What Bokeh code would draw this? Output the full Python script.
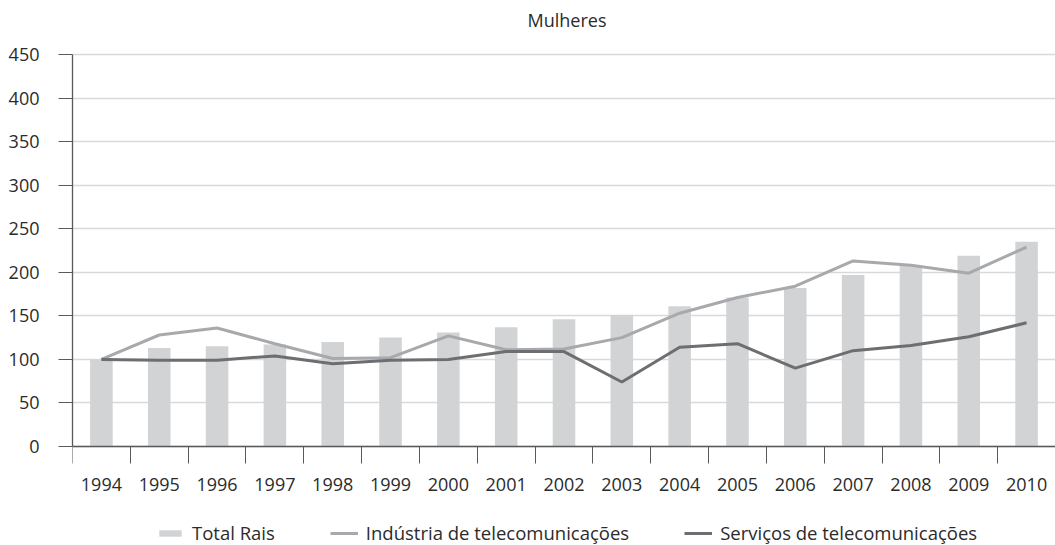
from bokeh.plotting import figure
from bokeh.models import FixedTicker, Legend, LegendItem, ColumnDataSource, Label
from bokeh.embed import file_html
from bokeh.resources import INLINE

years = ["1994", "1995", "1996", "1997", "1998", "1999", "2000", "2001", "2002",
         "2003", "2004", "2005", "2006", "2007", "2008", "2009", "2010"]
total_rais = [100, 113, 115, 117, 120, 125, 131, 137, 146, 151, 161, 171, 182, 197, 208, 219, 235]
industria = [100, 128, 136, 118, 101, 102, 127, 111, 112, 125, 153, 171, 184, 213, 208, 199, 229]
servicos = [100, 99, 99, 104, 95, 99, 100, 109, 109, 74, 114, 118, 90, 110, 116, 126, 142]
y_ticks = [0, 50, 100, 150, 200, 250, 300, 350, 400, 450]
title_text = "Mulheres"

FONT = "Open Sans"
TXT = "#2b2b2b"
AX = "#58595b"

W, H = 1055, 545
TOP = 54          # pixel row of the value 450
AXIS_Y = 446      # pixel row of the value 0
TITLE_Y = 19      # pixel row of the title centre
YMAX = 450
k = (AXIS_Y - TOP) / YMAX          # px per unit
y_lo = -(H - AXIS_Y) / k
y_hi = YMAX + TOP / k

xs = list(range(len(years)))
src = ColumnDataSource(dict(x=xs, total=total_rais, ind=industria, serv=servicos))

p = figure(width=W, height=H, output_backend="svg", toolbar_location=None,
           x_range=(-0.5, len(years) - 0.5), y_range=(y_lo, y_hi),
           min_border_left=72, min_border_right=0, min_border_top=0, min_border_bottom=0,
           title=None)
p.outline_line_color = None
p.background_fill_color = "white"
p.border_fill_color = "white"

bars = p.vbar(x="x", top="total", bottom=0, width=0.39, source=src,
              fill_color="#d1d3d4", line_color=None)
l_ind = p.line(x="x", y="ind", source=src, line_color="#a7a9ac", line_width=3)
l_serv = p.line(x="x", y="serv", source=src, line_color="#6d6e71", line_width=3)

# x axis, pinned at value 0
xa = p.xaxis[0]
xa.fixed_location = 0
xa.ticker = FixedTicker(ticks=xs, minor_ticks=[i - 0.5 for i in range(len(years) + 1)])
xa.major_label_overrides = {i: y for i, y in zip(xs, years)}
xa.major_tick_out = 0
xa.major_tick_in = 0
xa.minor_tick_out = 17
xa.minor_tick_in = 0
xa.minor_tick_line_color = AX
xa.axis_line_color = AX
xa.axis_line_width = 1.3
xa.major_label_standoff = 14
xa.major_label_text_font = FONT
xa.major_label_text_font_size = "18px"
xa.major_label_text_color = TXT
p.xgrid.visible = False

# y axis
ya = p.yaxis[0]
ya.bounds = (0, YMAX)
ya.ticker = FixedTicker(ticks=y_ticks)
ya.major_tick_out = 14
ya.major_tick_in = 0
ya.minor_tick_out = 0
ya.minor_tick_in = 0
ya.major_tick_line_color = AX
ya.axis_line_color = AX
ya.axis_line_width = 1.3
ya.major_label_standoff = 19
ya.major_label_text_font = FONT
ya.major_label_text_font_size = "18px"
ya.major_label_text_color = TXT
p.ygrid.ticker = FixedTicker(ticks=y_ticks)
p.ygrid.grid_line_color = "#d9d9d9"
p.ygrid.grid_line_width = 1.3

# chart title
p.add_layout(Label(x=(len(years) - 1) / 2, y=YMAX + (TOP - TITLE_Y) / k, text=title_text,
                   x_offset=3, text_align="center", text_baseline="middle",
                   text_font=FONT, text_font_size="18px", text_color=TXT))

legend = Legend(items=[LegendItem(label="Total Rais", renderers=[bars]),
                       LegendItem(label="Indústria de telecomunicações", renderers=[l_ind]),
                       LegendItem(label="Serviços de telecomunicações", renderers=[l_serv])],
                location=(84, 0), orientation="horizontal",
                glyph_width=28, glyph_height=8, label_standoff=8, spacing=55,
                padding=0, margin=0, border_line_color=None, background_fill_alpha=0,
                label_text_font=FONT, label_text_font_size="18.5px", label_text_color=TXT)
p.add_layout(legend)

open("out.html", "w").write(file_html(p, INLINE))
